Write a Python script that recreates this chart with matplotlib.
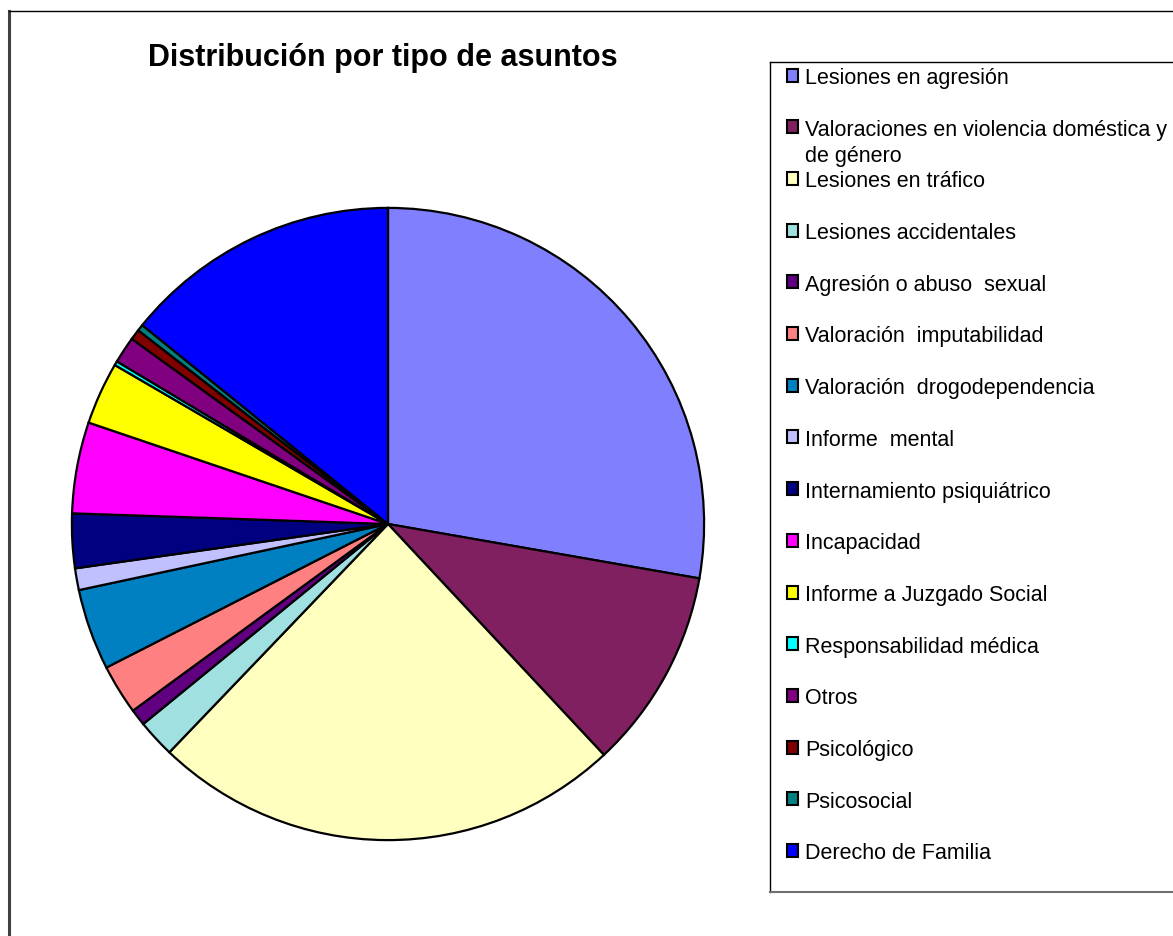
import matplotlib
matplotlib.use("Agg")
import matplotlib.pyplot as plt
from matplotlib.patches import Rectangle
from matplotlib.lines import Line2D

plt.rcParams['font.family'] = ['Liberation Sans', 'DejaVu Sans']

# datos (porcentaje aproximado de cada tipo)
categorias = ["Lesiones en agresión",
              "Valoraciones en violencia doméstica y\nde género",
              "Lesiones en tráfico",
              "Lesiones accidentales",
              "Agresión o abuso  sexual",
              "Valoración  imputabilidad",
              "Valoración  drogodependencia",
              "Informe  mental",
              "Internamiento psiquiátrico",
              "Incapacidad",
              "Informe a Juzgado Social",
              "Responsabilidad médica",
              "Otros",
              "Psicológico",
              "Psicosocial",
              "Derecho de Familia"]
valores = [27.75, 10.28, 24.12, 1.94, 0.85, 2.55, 4.15, 1.11,
           2.78, 4.66, 3.19, 0.21, 1.36, 0.54, 0.33, 14.17]
colores = ["#8080FF", "#802060", "#FFFFC0", "#A0E0E0", "#600080", "#FF8080",
           "#0080C0", "#C0C0FF", "#000080", "#FF00FF", "#FFFF00", "#00FFFF",
           "#800080", "#800000", "#008080", "#0000FF"]

W, H = 1173, 937
fig = plt.figure(figsize=(W / 100, H / 100), dpi=100)

def fx(px):
    return px / W

def fy(py):
    return 1 - py / H

# marco exterior
fig.add_artist(Line2D([fx(8.5), fx(8.5)], [fy(12), fy(937)], color="#404040", lw=2.2))
fig.add_artist(Line2D([fx(8.5), fx(1173)], [fy(12), fy(12)], color="black", lw=1.0))

# pastel
cx, cy, r = 388, 525, 318
ax = fig.add_axes([fx(cx - r), fy(cy + r), (2 * r) / W, (2 * r) / H])
ax.pie(valores, colors=colores, startangle=90, counterclock=False, radius=1,
       wedgeprops=dict(edgecolor="black", linewidth=1.6))
ax.set_xlim(-1.006, 1.006)
ax.set_ylim(-1.006, 1.006)
ax.set_aspect("equal")
ax.axis("off")

fig.text(fx(383), fy(58), "Distribución por tipo de asuntos", ha="center", va="center",
         fontsize=22, fontweight="bold")

# leyenda manual
fig.add_artist(Line2D([fx(769.5), fx(769.5)], [fy(63), fy(893)], color="black", lw=1.0))
fig.add_artist(Line2D([fx(769.5), fx(1173)], [fy(63), fy(63)], color="black", lw=1.0))
fig.add_artist(Line2D([fx(769.5), fx(1173)], [fy(893), fy(893)], color="#707070", lw=1.5))

y0, paso = 76, 51.7
for i, (cat, col) in enumerate(zip(categorias, colores)):
    y = y0 + paso * i
    fig.add_artist(Rectangle((fx(786.5), fy(y + 6.5)), 11.5 / W, 13 / H,
                             facecolor=col, edgecolor="black", lw=1.5,
                             transform=fig.transFigure))
    for k, linea in enumerate(cat.split("\n")):
        fig.text(fx(805), fy(y + 8 + 26 * k), linea, ha="left", va="baseline",
                 fontsize=15.5)

fig.savefig("out.png", dpi=100)
